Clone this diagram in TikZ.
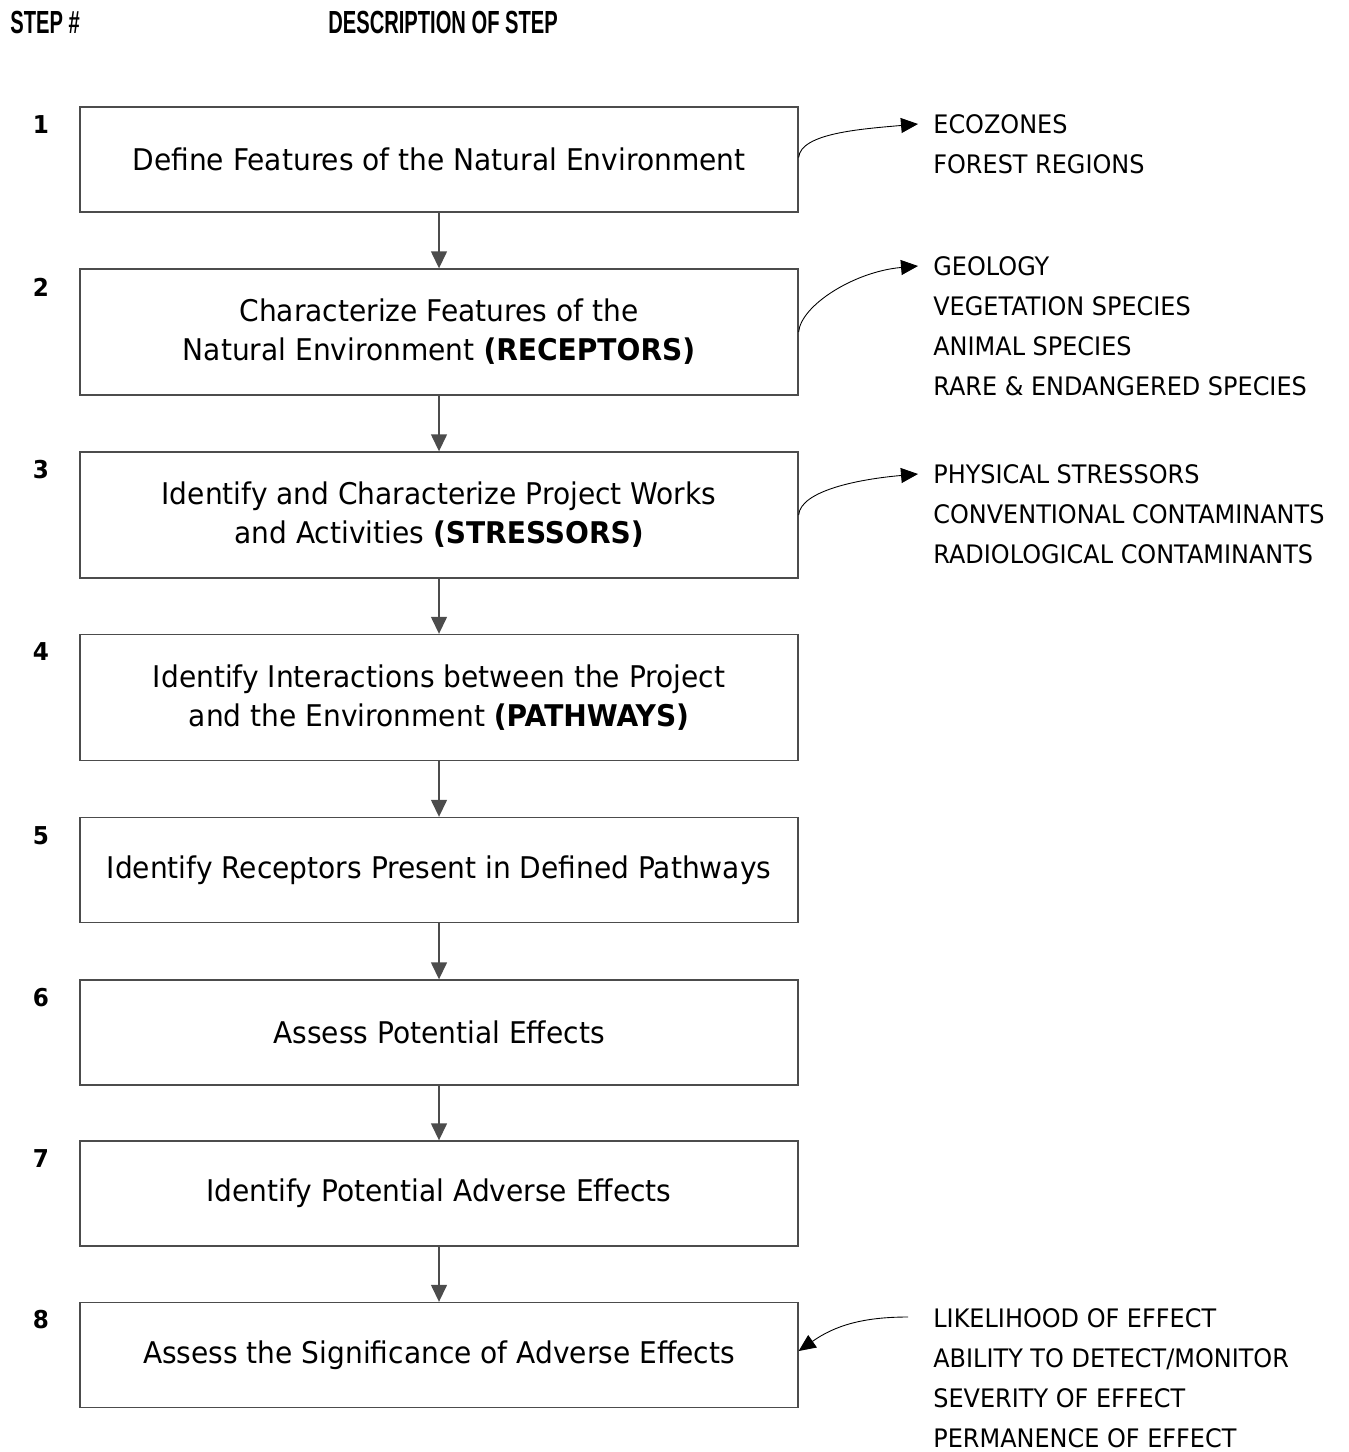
\documentclass[tikz,border=0pt]{standalone}
\usepackage{fontspec}
\setmainfont[FakeStretch=0.94]{DejaVu Sans}
\newfontfamily\headfont[FakeStretch=0.63]{Liberation Sans}
\usetikzlibrary{arrows.meta}
\tikzset{box/.style={draw=black!70, line width=0.8pt, minimum width=14.36cm, minimum height=2.1cm, inner sep=0pt, align=center, font=\fontsize{17}{22.1}\selectfont}}
\tikzset{tallbox/.style={box, minimum height=2.52cm}}
\tikzset{num/.style={font=\bfseries\fontsize{14}{17}\selectfont}}
\tikzset{head/.style={anchor=west, inner sep=0pt, font=\headfont\bfseries\fontsize{18.2}{20}\selectfont}}
\tikzset{items/.style={anchor=west, align=left, inner sep=0pt, font=\fontsize{14.5}{22.7}\selectfont}}
\tikzset{flow/.style={draw=black!70, line width=0.8pt, -{Triangle[length=0.34cm, width=0.32cm]}}}
\tikzset{link/.style={line width=0.5pt, -{Triangle[length=0.34cm, width=0.3cm]}}}
\tikzset{hook up/.style={out=85, in=185, out looseness=0.5, in looseness=1.2}}

\begin{document}
\begin{tikzpicture}[x=0.02cm, y=-0.02cm]
\useasboundingbox (0,0) rectangle (1348,1452);
\node[head] (h1) at (10,23) {STEP \#};
\node[head] (h2) at (328,23) {DESCRIPTION OF STEP};
% steps
\node[box] (b1) at (439,159.5) {Define Features of the Natural Environment};
\node[tallbox] (b2) at (439,332) {Characterize Features of the\\Natural Environment \textbf{(RECEPTORS)}};
\node[tallbox] (b3) at (439,515) {Identify and Characterize Project Works\\and Activities \textbf{(STRESSORS)}};
\node[tallbox] (b4) at (439,697.5) {Identify Interactions between the Project\\and the Environment \textbf{(PATHWAYS)}};
\node[box] (b5) at (439,870) {Identify Receptors Present in Defined Pathways};
\node[box] (b6) at (439,1032.5) {Assess Potential Effects};
\node[box] (b7) at (439,1193.5) {Identify Potential Adverse Effects};
\node[box] (b8) at (439,1355) {Assess the Significance of Adverse Effects};
\node[num] (n1) at (41,125) {1};
\node[num] (n2) at (41,287) {2};
\node[num] (n3) at (41,470) {3};
\node[num] (n4) at (41,652) {4};
\node[num] (n5) at (41,836) {5};
\node[num] (n6) at (41,998) {6};
\node[num] (n7) at (41,1159) {7};
\node[num] (n8) at (41,1320) {8};
\draw[flow] (b1.south) -- (b2.north);
\draw[flow] (b2.south) -- (b3.north);
\draw[flow] (b3.south) -- (b4.north);
\draw[flow] (b4.south) -- (b5.north);
\draw[flow] (b5.south) -- (b6.north);
\draw[flow] (b6.south) -- (b7.north);
\draw[flow] (b7.south) -- (b8.north);
% side lists
\node[items] (g1) at (933,144) {ECOZONES\\FOREST REGIONS};
\node[items] (g2) at (933,326) {GEOLOGY\\VEGETATION SPECIES\\ANIMAL SPECIES\\RARE \& ENDANGERED SPECIES};
\node[items] (g3) at (933,514) {PHYSICAL STRESSORS\\CONVENTIONAL CONTAMINANTS\\RADIOLOGICAL CONTAMINANTS};
\node[items] (g8) at (933,1378) {LIKELIHOOD OF EFFECT\\ABILITY TO DETECT/MONITOR\\SEVERITY OF EFFECT\\PERMANENCE OF EFFECT};
\coordinate (t1) at (918,124);
\coordinate (t2) at (918,266);
\coordinate (t3) at (918,474);
\coordinate (s8) at (908,1317);
\draw[link] ([yshift=0.04cm]b1.east) to[hook up] (t1);
\draw[link] (b2.east) to[hook up] (t2);
\draw[link] (b3.east) to[hook up] (t3);
\draw[link] (s8) to[out=180,in=35] ([yshift=0.08cm]b8.east);
\end{tikzpicture}
\end{document}
